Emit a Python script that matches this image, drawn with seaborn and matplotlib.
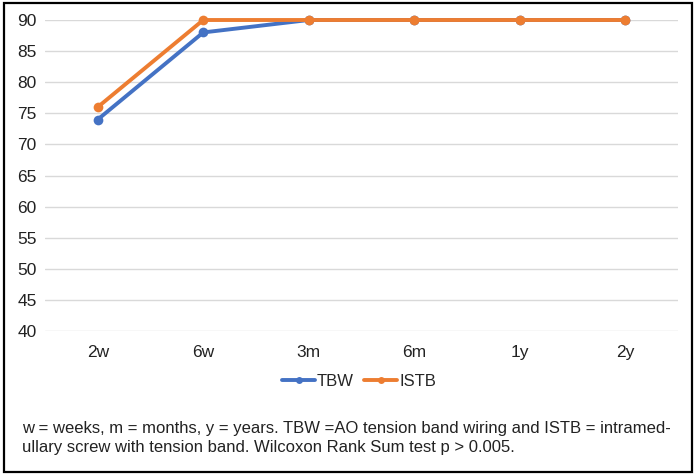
import matplotlib
matplotlib.use("Agg")
import matplotlib.pyplot as plt
import seaborn as sns
import pandas as pd
from matplotlib.patches import Rectangle

categories = ["2w", "6w", "3m", "6m", "1y", "2y"]
tbw = [74, 88, 90, 90, 90, 90]
istb = [76, 90, 90, 90, 90, 90]
series_names = ["TBW", "ISTB"]
y_ticks = [40, 45, 50, 55, 60, 65, 70, 75, 80, 85, 90]
caption = ("w = weeks, m = months, y = years. TBW =AO tension band wiring and ISTB = intramed-\n"
           "ullary screw with tension band. Wilcoxon Rank Sum test p > 0.005.")

df = pd.DataFrame({
    "time": categories * 2,
    "value": tbw + istb,
    "series": [series_names[0]] * len(categories) + [series_names[1]] * len(categories),
})

sns.set_theme(style="white")
plt.rcParams["font.family"] = ["Liberation Sans", "DejaVu Sans"]

fig = plt.figure(figsize=(6.96, 4.75), dpi=100)
ax = fig.add_axes([45 / 696, 1 - 331 / 475, 633 / 696, 311 / 475])

palette = {"TBW": "#4472C4", "ISTB": "#ED7D31"}
sns.lineplot(data=df, x="time", y="value", hue="series", palette=palette,
             marker="o", markersize=7, markeredgewidth=0, linewidth=2.8,
             sort=False, ax=ax, legend=True)

ax.set_xlim(-0.5, len(categories) - 0.5)
ax.set_ylim(40, 90)
ax.set_yticks(y_ticks)
ax.yaxis.grid(True, color="#d9d9d9", linewidth=1)
ax.xaxis.grid(False)
for s in ax.spines.values():
    s.set_visible(False)
ax.set_xlabel("")
ax.set_ylabel("")
ax.tick_params(axis="both", labelsize=12.5, colors="#222222", length=0)
ax.tick_params(axis="y", pad=6)
ax.tick_params(axis="x", pad=10)
for line in ax.lines:
    line.set_clip_on(False)

handles, labels = ax.get_legend_handles_labels()
for h in handles:
    h.set_markersize(5)
ax.legend(handles, labels, loc="center", bbox_to_anchor=(359 / 696, 1 - 381 / 475),
          bbox_transform=fig.transFigure, ncol=2, frameon=False, fontsize=12,
          handlelength=2.0, handletextpad=0.1, columnspacing=0.6)

fig.text(22 / 696, 1 - 438 / 475, caption, fontsize=12, color="#222222",
         ha="left", va="center", linespacing=1.3)

fig.patches.append(Rectangle((4 / 696, 3 / 475), 688 / 696, 469 / 475,
                             transform=fig.transFigure, fill=False,
                             edgecolor="black", linewidth=1.6))

fig.savefig("out.png", dpi=100)
